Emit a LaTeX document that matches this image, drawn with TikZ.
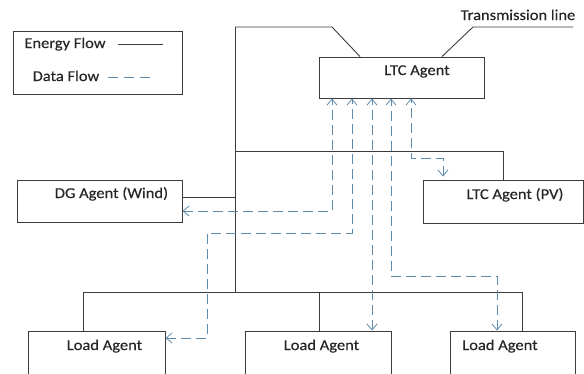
\documentclass[tikz,border=0pt]{standalone}
\usepackage{fontspec}
\setmainfont{Carlito}[FakeStretch=1.1,FakeBold=0.4]
\usepackage{tikz}
\usetikzlibrary{arrows.meta,calc,positioning}
\definecolor{energy}{RGB}{60,60,60}
\definecolor{dataflow}{RGB}{95,140,172}

\begin{document}
\begin{tikzpicture}[line cap=butt,line join=miter,x=1pt,y=-1pt,
  box/.style={draw=energy,line width=0.9pt,rectangle,inner sep=0pt},
  lbl/.style={anchor=base,inner sep=0pt,text=black!85,font=\fontsize{15}{18}\selectfont},
  efl/.style={draw=energy,line width=0.9pt},
  dfl/.style={draw=dataflow,line width=0.9pt,dash pattern=on 10pt off 5pt,
              arrows={Straight Barb[length=6pt,width=10pt,line width=0.8pt]-Straight Barb[length=6pt,width=10pt,line width=0.8pt]}}]
\useasboundingbox (0,0) rectangle (584,373);
\clip (0,0) rectangle (584,373);
%% boxes
\node[box,minimum width=169,minimum height=63] (legend) at (97.5,62.5) {};
\node[box,minimum width=165,minimum height=41] (ltc) at (401.5,77.5) {};
\node[box,minimum width=160,minimum height=43] (pv) at (503,201.5) {};
\node[box,minimum width=165,minimum height=42] (dg) at (99.5,201) {};
\node[box,minimum width=137,minimum height=60] (load1) at (96.5,361) {};
\node[box,minimum width=146,minimum height=60] (load2) at (318,361) {};
\node[box,minimum width=125,minimum height=60] (load3) at (512.5,361) {};
%% texts
\node[lbl] (ltc-t) at (417,75) {LTC Agent};
\node[lbl] (pv-t) at (515,199) {LTC Agent (PV)};
\node[lbl] (dg-t) at (111.5,198) {DG Agent (Wind)};
\node[lbl] (load1-t) at (104.5,350) {Load Agent};
\node[lbl] (load2-t) at (321.5,350) {Load Agent};
\node[lbl] (load3-t) at (500,350) {Load Agent};
\node[lbl] (tl-t) at (518,20) {Transmission line};
\node[lbl] (ef-t) at (65,48) {Energy Flow};
\node[lbl] (df-t) at (66,81) {Data Flow};
%% legend lines
\coordinate (ef1) at (118,44);
\coordinate (ef2) at (163,44);
\coordinate (df1) at (108,77);
\coordinate (df2) at (155,77);
\draw[efl] (ef1) -- (ef2);
\draw[draw=dataflow,line width=0.9pt,dash pattern=on 10pt off 6pt] (df1) -- (df2);
%% energy flow
\coordinate (bt) at (235,27);
\coordinate (bb) at (235,292);
\coordinate (jpv) at (235,151);
\coordinate (jdg) at (235,197);
\coordinate (b1) at (83,292);
\coordinate (b2) at (319,292);
\coordinate (b3) at (522,292);
\draw[efl] (bt) -- (bb);
\draw[efl] (bt) -- (332,27) -- (ltc.north -| 360,0);
\draw[efl] (ltc.north -| 442,0) -- (473,27) -- (573,27);
\draw[efl] (jpv) -- (jpv -| pv.north) -- (pv.north);
\draw[efl] (jdg -| dg.east) -- (jdg);
\draw[efl] (b1) -- (b3);
\draw[efl] (b1) -- (b1 |- load1.north);
\draw[efl] (b2) -- (b2 |- load2.north);
\draw[efl] (b3) -- (b3 |- load3.north);
%% data flow
\coordinate (a1) at (332,211);
\coordinate (a2) at (352,233);
\coordinate (a2b) at (207,338);
\coordinate (a3) at (372,0);
\coordinate (a4) at (391,276);
\coordinate (a4b) at (497,276);
\coordinate (a5) at (411,158);
\coordinate (a5b) at (443,158);
\draw[dfl] (dg.east |- a1) -- (a1) -- (a1 |- ltc.south);
\draw[dfl] (load1.east |- a2b) -- (a2b) -- (a2b |- a2) -- (a2) -- (a2 |- ltc.south);
\draw[dfl] (a3 |- load2.north) -- (a3 |- ltc.south);
\draw[dfl] (a4b |- load3.north) -- (a4b) -- (a4) -- (a4 |- ltc.south);
\draw[dfl,shorten <=3pt] (a5b |- pv.north) -- (a5b) -- (a5) -- (a5 |- ltc.south);
\end{tikzpicture}
\end{document}
